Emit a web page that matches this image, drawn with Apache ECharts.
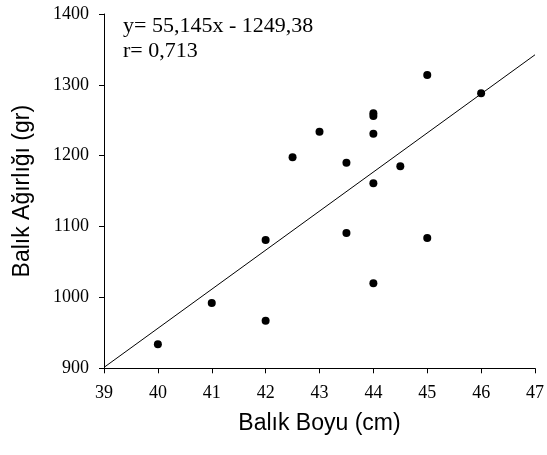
<!DOCTYPE html>
<html>
<head>
<meta charset="utf-8">
<script src="https://cdn.jsdelivr.net/npm/echarts@6/dist/echarts.min.js"></script>
<style>
  html, body { margin: 0; padding: 0; background: #fff; }
  #chart { width: 547px; height: 455px; }
</style>
</head>
<body>
<div id="chart"></div>
<script>
// Data
var lengthCm = [40, 41, 42, 42, 42.5, 43, 43.5, 43.5, 44, 44, 44, 44, 44, 44.5, 45, 45, 46];
var weightGr = [934, 992, 967, 1081, 1198, 1234, 1190, 1091, 1260, 1256, 1231, 1161, 1020, 1185, 1314, 1084, 1288];
var xTicks = [39, 40, 41, 42, 43, 44, 45, 46, 47];
var yTicks = [900, 1000, 1100, 1200, 1300, 1400];
var fitSlope = 55.145;
var fitIntercept = -1249.38;
var fitRange = [39, 47];
var equationText = 'y= 55,145x - 1249,38';
var rText = 'r= 0,713';
var xName = 'Balık Boyu (cm)';
var yName = 'Balık Ağırlığı (gr)';

var points = lengthCm.map(function (x, i) { return [x, weightGr[i]]; });
var fitLine = fitRange.map(function (x) { return [x, fitSlope * x + fitIntercept]; });

var chart = echarts.init(document.getElementById('chart'), null, { renderer: 'canvas' });
var serif = 'Liberation Serif, Times New Roman, serif';
var sans = 'Liberation Sans, Arial, sans-serif';

chart.setOption({
  animation: false,
  backgroundColor: '#fff',
  grid: { left: 104, right: 8.5, top: 14, bottom: 86.7, containLabel: false },
  xAxis: {
    type: 'value',
    min: xTicks[0],
    max: xTicks[xTicks.length - 1],
    interval: 1,
    name: xName,
    nameLocation: 'middle',
    nameGap: 44,
    nameTextStyle: { fontFamily: sans, fontSize: 23, color: '#000' },
    axisLine: { show: true, onZero: false, lineStyle: { color: '#000', width: 1 } },
    axisTick: { show: true, inside: false, length: 5, lineStyle: { color: '#000' } },
    axisLabel: { fontFamily: serif, fontSize: 18, color: '#000', margin: 16, showMinLabel: true, showMaxLabel: true,
      formatter: function (v) { return String(v); } },
    splitLine: { show: false }
  },
  yAxis: {
    type: 'value',
    min: yTicks[0],
    max: yTicks[yTicks.length - 1],
    interval: 100,
    name: yName,
    nameLocation: 'middle',
    nameGap: 70,
    nameRotate: 90,
    nameTextStyle: { fontFamily: sans, fontSize: 23, color: '#000' },
    axisLine: { show: true, onZero: false, lineStyle: { color: '#000', width: 1 } },
    axisTick: { show: true, inside: false, length: 5, lineStyle: { color: '#000' } },
    axisLabel: { fontFamily: serif, fontSize: 18, color: '#000', margin: 15,
      formatter: function (v) { return String(v); } },
    splitLine: { show: false }
  },
  graphic: [
    {
      type: 'text',
      left: 123,
      top: 14,
      style: {
        text: equationText + '\n' + rText,
        font: '22px ' + serif,
        fill: '#000',
        lineHeight: 25
      }
    }
  ],
  series: [
    {
      type: 'line',
      data: fitLine,
      symbol: 'none',
      lineStyle: { color: '#000', width: 1 },
      silent: true,
      z: 2
    },
    {
      type: 'scatter',
      data: points,
      symbol: 'circle',
      symbolSize: 8,
      itemStyle: { color: '#000', opacity: 1 },
      z: 3
    }
  ]
});
</script>
</body>
</html>
